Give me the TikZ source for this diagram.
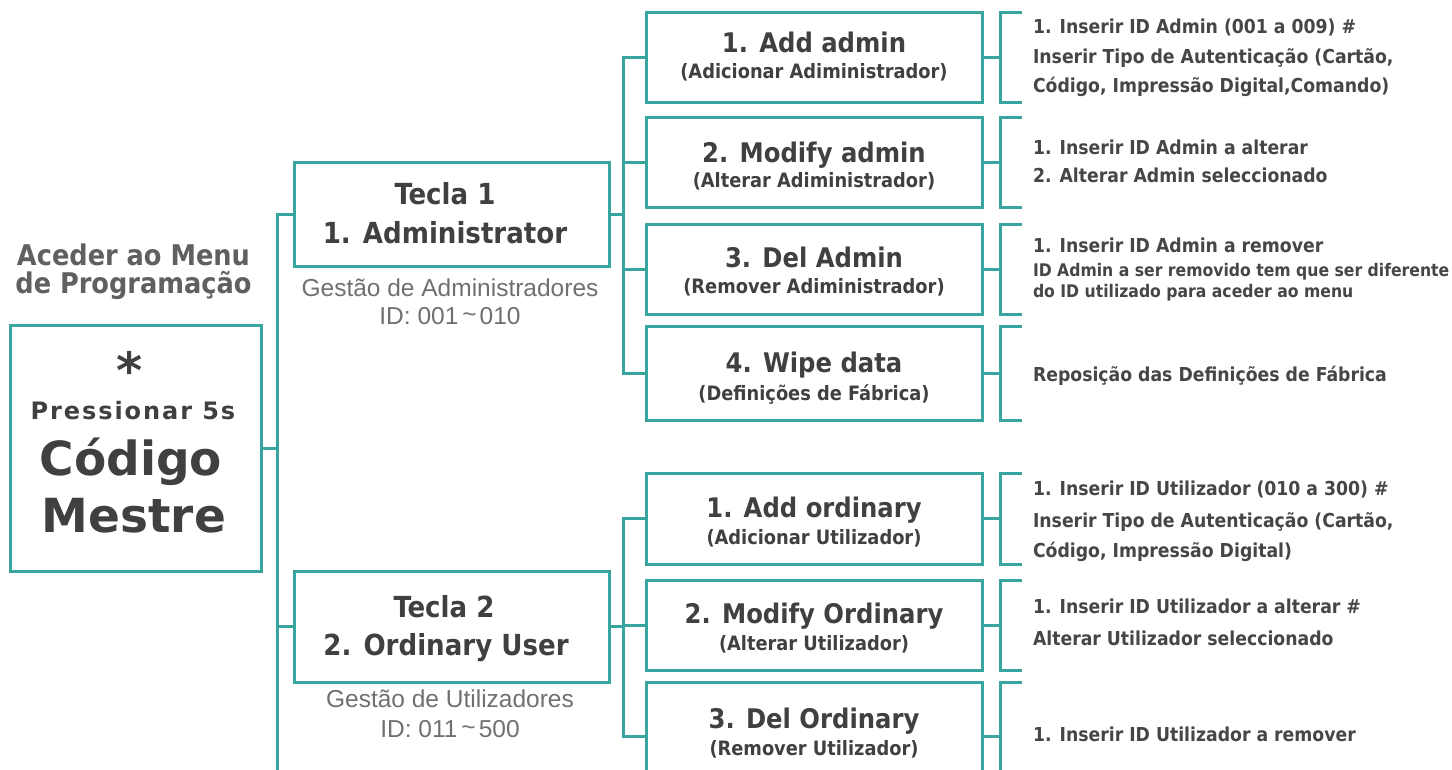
\documentclass[tikz,border=0pt]{standalone}
\usepackage{fontspec}
\usetikzlibrary{calc}
\newfontfamily\djs{DejaVu Sans}
\newfontfamily\djsp{DejaVu Sans}[LetterSpace=8]
\newfontfamily\djc{DejaVu Sans Condensed}
\newfontfamily\lsans{Liberation Sans}
\definecolor{tl}{RGB}{56,166,158}
\definecolor{dk}{RGB}{64,64,64}
\definecolor{rt}{RGB}{70,70,70}
\definecolor{gt}{RGB}{96,96,96}
\definecolor{lg}{RGB}{112,112,112}
\newcommand\mkbracket[1]{%
  \draw[conn] ($(#1.north east)+(40,0)$) -- ($(#1.north east)+(18,0)$) -- ($(#1.south east)+(18,0)$) -- ($(#1.south east)+(40,0)$);
  \draw[conn] (#1.east) -- ++(18,0);}
\newcommand\tildeup{\hspace{4pt}\raisebox{2pt}{\textasciitilde}\hspace{3pt}}
\begin{document}
\begin{tikzpicture}[x=1pt,y=-1pt,
  conn/.style={draw=tl,line width=3pt,line join=miter},
  boxn/.style={draw=tl,line width=3pt,rectangle,inner sep=0pt,outer sep=0pt,minimum width=336pt},
  txt/.style={inner sep=0pt,outer sep=0pt,anchor=base,text=dk},
  mast/.style={txt,font=\djs\bfseries\fontsize{#1}{#1}\selectfont},
  tecla/.style={txt,font=\djc\bfseries\fontsize{29}{29}\selectfont},
  sub/.style={txt,text=lg,font=\lsans\fontsize{24.5}{24.5}\selectfont},
  btitle/.style={txt,font=\djc\bfseries\fontsize{27}{27}\selectfont},
  bsub/.style={txt,font=\djc\bfseries\fontsize{19.8}{19.8}\selectfont},
  rtxt/.style={txt,anchor=base west,text=rt,font=\djc\bfseries\fontsize{19.2}{19.2}\selectfont},
  rsmall/.style={txt,anchor=base west,text=rt,font=\djc\bfseries\fontsize{17.4}{17.4}\selectfont}]
\useasboundingbox (0,0) rectangle (1452,769);
\clip (0,0) rectangle (1452,769);
\fill[white] (0,0) rectangle (1452,769);
% boxes
\node[boxn,minimum width=251pt,minimum height=246pt] (master) at (135.5,448) {};
\node[boxn,minimum width=315pt,minimum height=104pt] (t1) at (451.5,214) {};
\node[boxn,minimum width=315pt,minimum height=111pt] (t2) at (451.5,626.5) {};
\node[boxn,minimum height=90pt] (a1) at (814,57) {};
\node[boxn,minimum height=90pt] (a2) at (814,162) {};
\node[boxn,minimum height=90pt] (a3) at (814,269) {};
\node[boxn,minimum height=94pt] (a4) at (814,373) {};
\node[boxn,minimum height=91pt] (b1) at (814,518.5) {};
\node[boxn,minimum height=90pt] (b2) at (814,625) {};
\node[boxn,minimum height=108pt] (b3) at (814,736) {};
% junction points
\coordinate (trunktop) at (277,214);
\coordinate (trunkbot) at (277,800);
\coordinate (ja) at (623,214);
\coordinate (jb) at (623,626.5);
% connectors
\draw[conn] (t1.west) -- (trunktop) -- (trunkbot);
\draw[conn] (master.east) -- (master.east -| trunktop);
\draw[conn] (t2.west -| trunktop) -- (t2.west);
\draw[conn] (t1.east) -- (ja);
\draw[conn] (a1.west) -- (a1.west -| ja) -- (a4.west -| ja) -- (a4.west);
\draw[conn] (a2.west -| ja) -- (a2.west);
\draw[conn] (a3.west -| ja) -- (a3.west);
\draw[conn] (t2.east) -- (jb);
\draw[conn] (b1.west) -- (b1.west -| jb) -- (b3.west -| jb) -- (b3.west);
\draw[conn] (b2.west -| jb) -- (b2.west);
\mkbracket{a1}\mkbracket{a2}\mkbracket{a3}\mkbracket{a4}
\mkbracket{b1}\mkbracket{b2}\mkbracket{b3}
% left texts
\node[txt,text=gt,font=\djc\bfseries\fontsize{28.5}{28.5}\selectfont] (ac1) at (133.5,265) {Aceder ao Menu};
\node[txt,text=gt,font=\djc\bfseries\fontsize{28.5}{28.5}\selectfont] (ac2) at (133.5,293) {de Programação};
\node[mast=50] (star) at (130,388) {*};
\node[txt,font=\djsp\bfseries\fontsize{24}{24}\selectfont] (press) at (133,419) {Pressionar 5s};
\node[mast=47] (cod) at (131,475) {Código};
\node[mast=47] (mes) at (134,532) {Mestre};
% tecla texts
\node[tecla] (t1a) at (445,204) {Tecla 1};
\node[tecla] (t1b) at (445,243) {1. Administrator};
\node[sub] (t1c) at (450,296) {Gestão de Administradores};
\node[sub] (t1d) at (450,324) {ID: 001\tildeup010};
\node[tecla] (t2a) at (444,617) {Tecla 2};
\node[tecla] (t2b) at (446,655) {2. Ordinary User};
\node[sub] (t2c) at (450,707) {Gestão de Utilizadores};
\node[sub] (t2d) at (450,737) {ID: 011\tildeup500};
% sub box texts
\node[btitle] (a1a) at (814,52) {1. Add admin};
\node[bsub] (a1b) at (814,78) {(Adicionar Adiministrador)};
\node[btitle] (a2a) at (814,162) {2. Modify admin};
\node[bsub] (a2b) at (814,187) {(Alterar Adiministrador)};
\node[btitle] (a3a) at (814,267) {3. Del Admin};
\node[bsub] (a3b) at (814,293) {(Remover Adiministrador)};
\node[btitle] (a4a) at (814,372) {4. Wipe data};
\node[bsub] (a4b) at (814,400) {(Definições de Fábrica)};
\node[btitle] (b1a) at (814,517) {1. Add ordinary};
\node[bsub] (b1b) at (814,544) {(Adicionar Utilizador)};
\node[btitle] (b2a) at (814,623) {2. Modify Ordinary};
\node[bsub] (b2b) at (814,650) {(Alterar Utilizador)};
\node[btitle] (b3a) at (814,728) {3. Del Ordinary};
\node[bsub] (b3b) at (814,755) {(Remover Utilizador)};
% right texts
\node[rtxt] (r11) at (1033,33) {1. Inserir ID Admin (001 a 009) \#};
\node[rtxt] (r12) at (1033,63) {Inserir Tipo de Autenticação (Cartão,};
\node[rtxt] (r13) at (1033,92) {Código, Impressão Digital,Comando)};
\node[rtxt] (r21) at (1033,154) {1. Inserir ID Admin a alterar};
\node[rtxt] (r22) at (1033,182) {2. Alterar Admin seleccionado};
\node[rtxt] (r31) at (1033,252) {1. Inserir ID Admin a remover};
\node[rsmall] (r32) at (1033,276) {ID Admin a ser removido tem que ser diferente};
\node[rsmall] (r33) at (1033,297) {do ID utilizado para aceder ao menu};
\node[rtxt] (r41) at (1033,381) {Reposição das Definições de Fábrica};
\node[rtxt] (r51) at (1033,495) {1. Inserir ID Utilizador (010 a 300) \#};
\node[rtxt] (r52) at (1033,527) {Inserir Tipo de Autenticação (Cartão,};
\node[rtxt] (r53) at (1033,557) {Código, Impressão Digital)};
\node[rtxt] (r61) at (1033,613) {1. Inserir ID Utilizador a alterar \#};
\node[rtxt] (r62) at (1033,645) {Alterar Utilizador seleccionado};
\node[rtxt] (r71) at (1033,741) {1. Inserir ID Utilizador a remover};
\end{tikzpicture}
\end{document}
